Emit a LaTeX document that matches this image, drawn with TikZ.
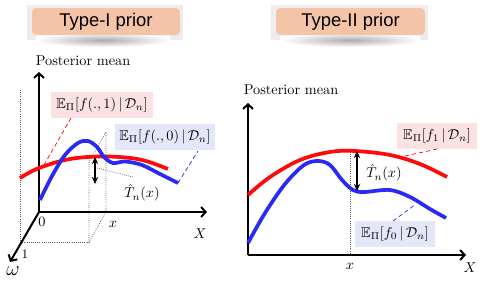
\documentclass[tikz,border=0pt]{standalone}
\usepackage{amsmath,amssymb}
\usepackage{fontspec}
\newfontfamily\titlefont{Liberation Sans}
\usetikzlibrary{arrows.meta}
\definecolor{titlefill}{HTML}{F5C4A8}
\definecolor{pinkfill}{HTML}{FCE1E3}
\definecolor{lavfill}{HTML}{E4E6FA}
\definecolor{cred}{HTML}{FF0A0A}
\definecolor{cblue}{HTML}{2A2AF5}
\begin{document}
\begin{tikzpicture}[x=0.7pt,y=-0.7pt,
  axis/.style={line width=1.4pt,-{Straight Barb[length=3.2pt,width=7pt]}},
  guide/.style={gray!70!black,line width=0.5pt,densely dotted},
  curvered/.style={cred,line width=2.6pt},
  curveblue/.style={cblue,line width=2.6pt},
  leadred/.style={cred,line width=0.5pt,densely dashed},
  leadblue/.style={cblue,line width=0.5pt,densely dashed},
  leadgray/.style={gray!60!black,line width=0.5pt,densely dotted},
  twoway/.style={line width=1.1pt,{Stealth[length=5pt,width=4.5pt]}-{Stealth[length=5pt,width=4.5pt]}},
  titlebox/.style={fill=titlefill,rounded corners=3pt,minimum height=18.9pt,inner sep=0pt,font=\titlefont\fontsize{12.9}{14}\selectfont},
  labpink/.style={fill=pinkfill,minimum height=18.2pt,inner sep=1pt},
  labblue/.style={fill=lavfill,minimum height=18.2pt,inner sep=1pt},
  txt/.style={inner sep=0pt}]
\useasboundingbox (0,0) rectangle (485,287);

% ---------- title shadows ----------
\fill[gray!14] (27,5) rectangle (183,40);
\shade[inner color=gray!65,outer color=white] (36,33) rectangle (170,47);
\fill[gray!14] (271,5) rectangle (428,40);
\shade[inner color=gray!65,outer color=white] (280,33) rectangle (420,47);
\node[titlebox,minimum width=103.6pt] (t1) at (106,21.5) {Type-I prior};
\node[titlebox,minimum width=104.3pt] (t2) at (350.5,21.5) {Type-II prior};

% ================= LEFT PANEL =================
\coordinate (O1) at (39,212);
\coordinate (Y1) at (39,72);
\coordinate (X1) at (207,212);
\coordinate (W1) at (10,262);
\coordinate (R1top) at (20,90);
\coordinate (R1bot) at (20,242);
\coordinate (Pa) at (106,212);
\coordinate (Pb) at (89,242);
\coordinate (Pc) at (89,162);
\coordinate (Pd) at (106,132);

\draw[guide] (R1top) -- (R1bot) -- (Pb);
\draw[guide] (Pa) -- (Pb) -- (Pc) -- (Pd) -- cycle;

\draw[axis] (O1) -- (Y1);
\draw[axis] (O1) -- (X1);
\draw[axis] (O1) -- (W1);

\node[txt] (pm1) at (83,61) {Posterior mean};
\node[txt] (zero) at (42,222) {$0$};
\node[txt] (xl1) at (113,224) {$x$};
\node[txt] (Xl1) at (200,234) {$X$};
\node[txt] (one) at (25,254) {\small $1$};
\node[txt] (om) at (13,271) {\Large $\omega$};

\draw[curvered] plot[smooth,tension=0.6] coordinates {(20,178) (39,168) (70,159) (105,156.5) (140,159.5) (168,169)};
\draw[curveblue] plot[smooth,tension=0.55] coordinates {(40,200) (52,176) (65,155) (78,143) (88,141) (97,147) (104,157) (113,163) (125,161.5) (142,165) (160,174) (178,183)};

\node[labpink,minimum width=72pt] (lp1) at (102,105) {$\mathbb{E}_{\Pi}[f(.,1)\,|\,\mathcal{D}_n]$};
\node[labblue,minimum width=70pt] (lb1) at (165,137) {$\mathbb{E}_{\Pi}[f(.,0)\,|\,\mathcal{D}_n]$};
\coordinate (lr1) at (44,165);
\coordinate (lr1b) at (71,118);
\coordinate (lbb1) at (178,183);
\coordinate (lbb1b) at (198,151);
\draw[leadred] (lr1) -- (lr1b);
\draw[leadblue] (lbb1) -- (lbb1b);

\coordinate (A1t) at (95,157);
\coordinate (A1b) at (95,184);
\draw[twoway] (A1t) -- (A1b);
\node[txt] (T1) at (142,193) {$\hat{T}_n(x)$};
\coordinate (g1) at (97,168);
\coordinate (g1b) at (133,177);
\draw[leadgray] (g1) -- (g1b);

% ================= RIGHT PANEL =================
\coordinate (O2) at (248,255);
\coordinate (Y2) at (248,103);
\coordinate (X2) at (466,255);
\coordinate (V2t) at (350,152);
\coordinate (V2b) at (350,255);

\draw[guide] (V2t) -- (V2b);
\draw[axis] (O2) -- (Y2);
\draw[axis] (O2) -- (X2);

\node[txt] (pm2) at (291,90) {Posterior mean};
\node[txt] (xl2) at (350,266) {$x$};
\node[txt] (Xl2) at (470,268) {$X$};

\draw[curvered] plot[smooth,tension=0.6] coordinates {(248,195) (270,177) (300,160) (330,152) (355,151) (390,155) (420,164) (447,177)};
\draw[curveblue] plot[smooth,tension=0.55] coordinates {(248,243) (265,213) (285,184) (304,165) (318,161) (330,165) (342,180) (353,190) (364,192) (390,190) (410,197) (430,209) (446,218)};

\coordinate (A2t) at (357,151);
\coordinate (A2b) at (357,191);
\draw[twoway] (A2t) -- (A2b);
\node[txt] (T2) at (384,173) {$\hat{T}_n(x)$};

\node[labpink,minimum width=56pt] (lp2) at (437,136) {$\mathbb{E}_{\Pi}[f_1\,|\,\mathcal{D}_n]$};
\node[labblue,minimum width=56pt] (lb2) at (395,234) {$\mathbb{E}_{\Pi}[f_0\,|\,\mathcal{D}_n]$};
\coordinate (lr2) at (405,156);
\coordinate (lr2b) at (437,149);
\coordinate (lbb2) at (393,221);
\coordinate (lbb2b) at (416,204);
\draw[leadred] (lr2) -- (lr2b);
\draw[leadblue] (lbb2) -- (lbb2b);
\end{tikzpicture}
\end{document}
